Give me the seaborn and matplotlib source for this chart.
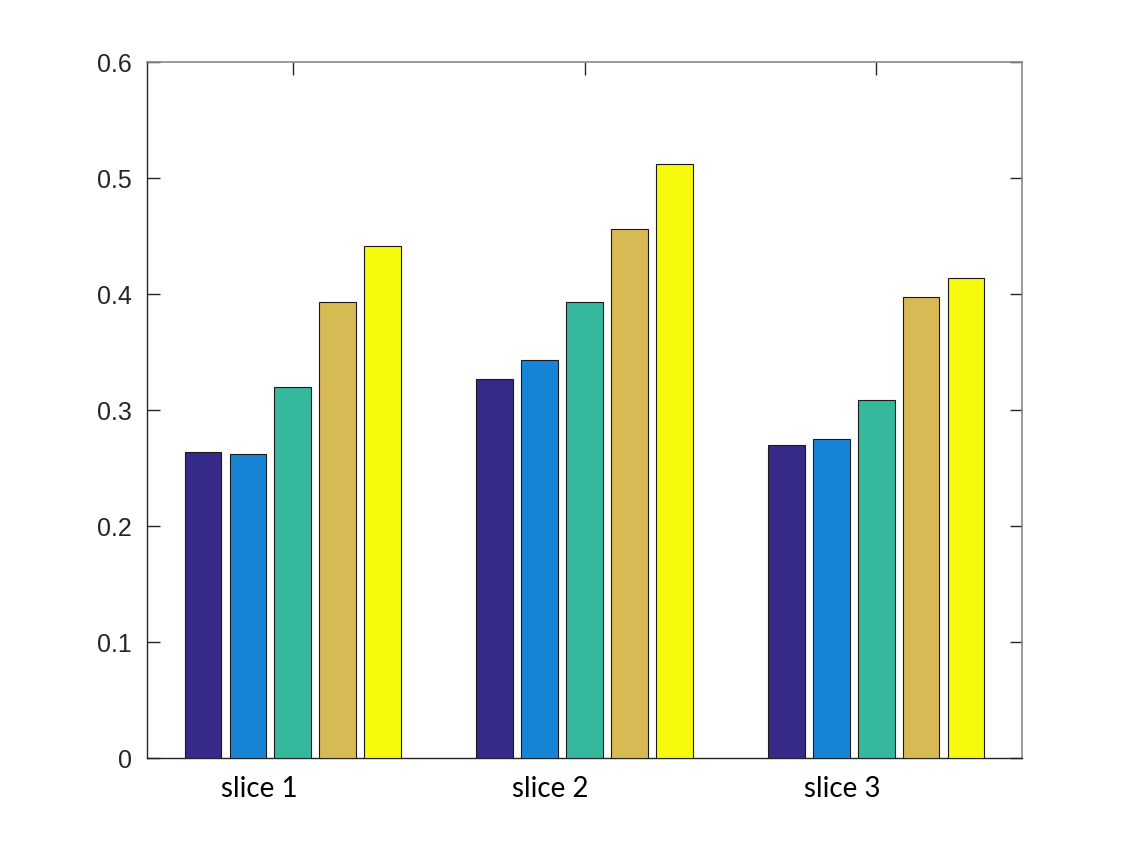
import matplotlib
matplotlib.use("Agg")
import matplotlib.pyplot as plt
import matplotlib.transforms as mtransforms
import seaborn as sns
import pandas as pd

categories = ["slice 1", "slice 2", "slice 3"]
series_names = ["s1", "s2", "s3", "s4", "s5"]
values = {
    "s1": [0.264, 0.327, 0.270],
    "s2": [0.262, 0.343, 0.275],
    "s3": [0.320, 0.393, 0.309],
    "s4": [0.393, 0.456, 0.397],
    "s5": [0.441, 0.512, 0.414],
}
colors = ["#352a87", "#1784d6", "#36b89d", "#d8ba55", "#f8fa0d"]
yticks = [0, 0.1, 0.2, 0.3, 0.4, 0.5, 0.6]
ytick_labels = ["0", "0.1", "0.2", "0.3", "0.4", "0.5", "0.6"]

rows = []
for s in series_names:
    for c, v in zip(categories, values[s]):
        rows.append({"cat": c, "series": s, "val": v})
df = pd.DataFrame(rows)

sns.set_style("white")
plt.rcParams["font.family"] = ["Liberation Sans", "DejaVu Sans"]

fig = plt.figure(figsize=(11.29, 8.5), dpi=100)
ax = fig.add_axes([147 / 1129, 1 - 758 / 850, (1022 - 147) / 1129, (758 - 62) / 850])

sns.barplot(data=df, x="cat", y="val", hue="series", hue_order=series_names,
            order=categories, palette=colors, width=0.77, gap=0.18,
            edgecolor="#1a1a1a", linewidth=0.8, saturation=1, ax=ax, legend=False,
            zorder=3)

ax.set_xlim(-0.5, 2.5)
ax.set_ylim(0, 0.6)
ax.set_yticks(yticks)
ax.set_yticklabels(ytick_labels, fontsize=18, color="#262626")
ax.set_xticks(range(len(categories)))
ax.set_xticklabels(categories, fontsize=20, family=["Lato", "DejaVu Sans"], color="#000000")
ax.set_xlabel("")
ax.set_ylabel("")

ax.tick_params(axis="y", direction="in", length=9, width=1, color="#262626",
               left=True, right=True, pad=11)
ax.tick_params(axis="x", direction="in", length=9, width=1, color="#262626",
               bottom=True, top=True, pad=13)

offset = mtransforms.ScaledTranslation(-34 / 100, 0, fig.dpi_scale_trans)
for lbl in ax.get_xticklabels():
    lbl.set_transform(lbl.get_transform() + offset)

for side in ["left", "bottom"]:
    ax.spines[side].set_color("#262626")
    ax.spines[side].set_linewidth(1)
for side in ["top", "right"]:
    ax.spines[side].set_color("#8a8a8a")
    ax.spines[side].set_linewidth(1.2)
    ax.spines[side].set_visible(True)

fig.savefig("out.png", dpi=100, facecolor="white")
